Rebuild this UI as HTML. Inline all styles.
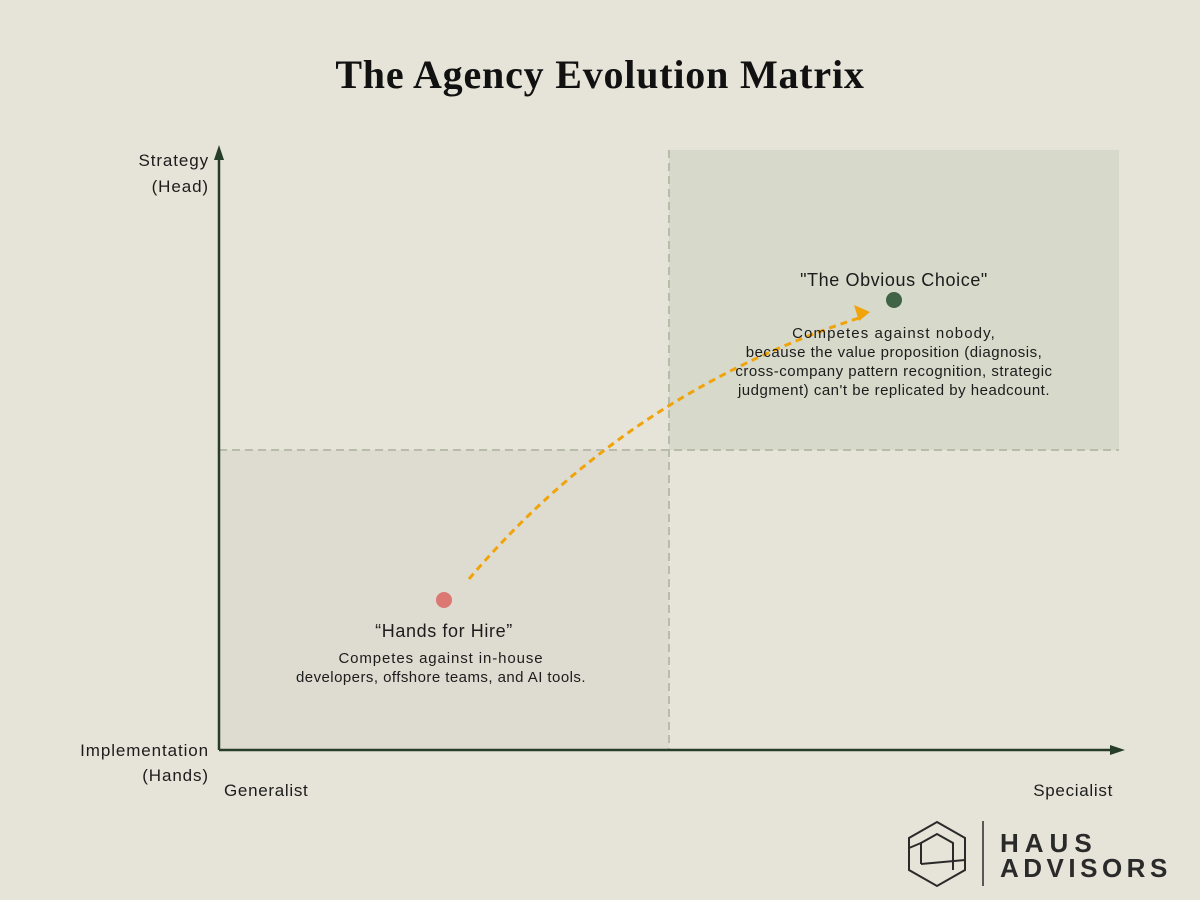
<!DOCTYPE html>
<html><head><meta charset="utf-8">
<style>
html,body{margin:0;padding:0;background:#e6e4d8;}
svg{display:block;}
text{font-family:"Liberation Sans",sans-serif;fill:#1c1c1c;}
</style></head>
<body>
<svg width="1200" height="900" viewBox="0 0 1200 900">
<text x="600" y="88" text-anchor="middle" style="font-family:'Liberation Serif',serif;font-weight:bold;font-size:40px;letter-spacing:0.8px;fill:#111">The Agency Evolution Matrix</text>
<g id="plot"></g>
<g>
  <polygon points="937,822 965,838 965,870 937,886 909,870 909,838" fill="none" stroke="#2a2a2a" stroke-width="2"/>
  <polyline points="921,864 921,843 937,834 953,843 953,870" fill="none" stroke="#2a2a2a" stroke-width="2"/>
  <line x1="909" y1="848" x2="921" y2="843" stroke="#2a2a2a" stroke-width="2"/>
  <line x1="921" y1="864" x2="965" y2="860" stroke="#2a2a2a" stroke-width="2"/>
  <line x1="983" y1="821" x2="983" y2="886" stroke="#2a2a2a" stroke-width="1.5"/>
  <text x="1000" y="852" style="font-size:26px;font-weight:bold;letter-spacing:6px;fill:#2a2a2a">HAUS</text>
  <text x="1000" y="877" style="font-size:26px;font-weight:bold;letter-spacing:4.5px;fill:#2a2a2a">ADVISORS</text>
</g>
</svg>
<script>
const quadrantNames=["top-right","bottom-left"];
const quadX=[0.5,0];
const quadY=[1,0.5];
const pointNames=["hands-for-hire","obvious-choice"];
const pointX=[0.25,0.75];
const pointY=[0.25,0.75];
const pointColors=["#dc7872","#3f6344"];
const NS="http://www.w3.org/2000/svg";
const x0=219,x1=1119,y0=750,y1=150;
const sx=v=>x0+v*(x1-x0);
const sy=v=>y0-v*(y0-y1);
const g=document.getElementById('plot');
function mk(tag,attrs,parent){const e=document.createElementNS(NS,tag);for(const k in attrs)e.setAttribute(k,attrs[k]);(parent||g).appendChild(e);return e;}
const fills=["#d7d9cb","#dedcd0"];
quadX.forEach((qx,i)=>{
  const r=mk('rect',{x:sx(qx),y:sy(quadY[i]),width:sx(qx+0.5)-sx(qx),height:sy(quadY[i]-0.5)-sy(quadY[i]),fill:fills[i]});
  
  
});
const vl=mk('line',{x1:sx(0.5),y1:sy(1),x2:sx(0.5),y2:sy(0),stroke:"#b9bcaa","stroke-width":2,"stroke-dasharray":"8 5"});


const hl=mk('line',{x1:sx(0),y1:sy(0.5),x2:sx(1),y2:sy(0.5),stroke:"#b9bcaa","stroke-width":2,"stroke-dasharray":"8 5"});


const ya=mk('line',{x1:x0,y1:y0,x2:x0,y2:158,stroke:"#263d2a","stroke-width":2.5});


mk('polygon',{points:`${x0-5},160 ${x0+5},160 ${x0},145`,fill:"#263d2a"});
const xa=mk('line',{x1:x0,y1:y0,x2:1112,y2:y0,stroke:"#263d2a","stroke-width":2.5});


mk('polygon',{points:`1110,745 1110,755 1125,750`,fill:"#263d2a"});
function txt(s,x,y,anchor,size,name,ls){const t=mk('text',{x:x,y:y,"text-anchor":anchor,style:"font-size:"+size+"px;letter-spacing:"+(ls||0)+"px"});t.textContent=s;return t;}
txt("Strategy",209,166,"end",17,"y-axis-top-label",0.9);
txt("(Head)",209,192,"end",17,"y-axis-top-label-sub",0.9);
txt("Implementation",209,756,"end",17,"y-axis-bottom-label",0.9);
txt("(Hands)",209,781,"end",17,"y-axis-bottom-label-sub",0.9);
txt("Generalist",224,796,"start",17,"x-axis-left-label",0.7);
txt("Specialist",1113,796,"end",17,"x-axis-right-label",0.7);
const ax=sx(pointX[0])+25, ay=sy(pointY[0])-21, bx=sx(pointX[1])-26, by=sy(pointY[1])+14;
const cx=628, cy=392;
const path=mk('path',{d:`M${ax},${ay} Q${cx},${cy} ${bx-6},${by+3}`,fill:"none",stroke:"#f0a30a","stroke-width":3,"stroke-dasharray":"7 5"});


const ah=mk('polygon',{points:`${bx+2},${by-2} ${bx-14},${by-9} ${bx-9},${by+7}`,fill:"#f0a30a"});


pointX.forEach((px,i)=>{
  const c=mk('circle',{cx:sx(px),cy:sy(pointY[i]),r:8,fill:pointColors[i]});
  
  
});
txt("\u201CHands for Hire\u201D",444,637,"middle",18,"hands-for-hire-title",0.6);
txt("Competes against in-house",441,663,"middle",15,"hands-for-hire-desc-1",0.9);
txt("developers, offshore teams, and AI tools.",441,682,"middle",15,"hands-for-hire-desc-2",0.45);
txt("\"The Obvious Choice\"",894,286,"middle",18,"obvious-choice-title",0.6);
txt("Competes against nobody,",894,338,"middle",15,"obvious-choice-desc-1",1.1);
txt("because the value proposition (diagnosis,",894,357,"middle",15,"obvious-choice-desc-2",0.5);
txt("cross-company pattern recognition, strategic",894,376,"middle",15,"obvious-choice-desc-3",0.5);
txt("judgment) can't be replicated by headcount.",894,395,"middle",15,"obvious-choice-desc-4",0.5);
</script>
</body></html>
